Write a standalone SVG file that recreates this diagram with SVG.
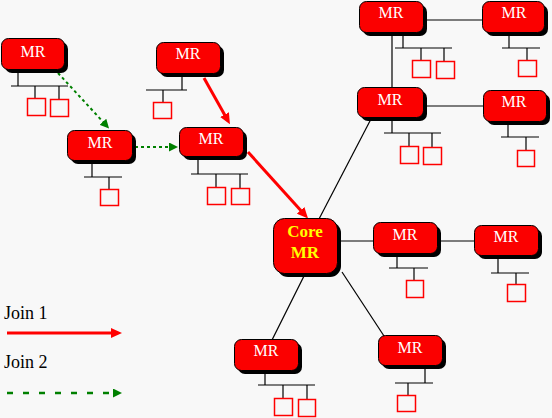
<svg xmlns="http://www.w3.org/2000/svg" width="552" height="418" viewBox="0 0 552 418">
<defs>
<style>
.sh{fill:#000}
.bx{fill:#fb0000;stroke:#000;stroke-width:1}
.lb{font-family:"Liberation Serif","Times New Roman",serif;font-size:16px;fill:#fff;text-anchor:middle}
.core{font-family:"Liberation Serif","Times New Roman",serif;font-size:17px;font-weight:bold;fill:#ffff00;text-anchor:middle}
.ln{stroke:#000;stroke-width:1.2;fill:none}
.h{fill:none;stroke:#f00;stroke-width:1.5}
.j1{stroke:#f00;stroke-width:3;fill:none}
.j2{stroke:#008000;stroke-width:2;fill:none;stroke-dasharray:3 3}
.j2l{stroke:#008000;stroke-width:2.5;fill:none;stroke-dasharray:6 10}
.leg{font-family:"Liberation Serif","Times New Roman",serif;font-size:18px;fill:#000}
</style>
<marker id="ar" markerUnits="userSpaceOnUse" markerWidth="11" markerHeight="10" refX="5" refY="5" orient="auto" viewBox="0 0 11 10"><path d="M0,0 L11,5 L0,10 z" fill="#f00"/></marker>
<marker id="ag" markerUnits="userSpaceOnUse" markerWidth="9" markerHeight="9" refX="3" refY="4.5" orient="auto" viewBox="0 0 9 9"><path d="M0,0 L9,4.5 L0,9 z" fill="#008000"/></marker>
</defs>
<rect width="552" height="418" fill="#f8f8f8"/>

<g id="connectors">
<line class="ln" x1="392" y1="32" x2="392" y2="88"/>
<line class="ln" x1="423" y1="20" x2="482" y2="20"/>
<line class="ln" x1="423" y1="106" x2="483" y2="106"/>
<line class="ln" x1="371" y1="119" x2="319" y2="219"/>
<line class="ln" x1="337" y1="241" x2="373" y2="241"/>
<line class="ln" x1="437" y1="241" x2="474" y2="241"/>
<line class="ln" x1="304" y1="276" x2="272" y2="340"/>
<line class="ln" x1="342" y1="272" x2="384" y2="336"/>
<line class="j1" x1="204" y1="78" x2="227" y2="119" marker-end="url(#ar)"/>
<line class="j1" x1="248" y1="152" x2="304" y2="214" marker-end="url(#ar)"/>
<line class="j2" x1="58" y1="73" x2="105" y2="124" marker-end="url(#ag)"/>
<line class="j2" x1="135" y1="147" x2="172" y2="147" marker-end="url(#ag)"/>
</g>

<g id="mr1">
<line class="ln" x1="18" y1="69" x2="18" y2="86"/><line class="ln" x1="11" y1="86" x2="68" y2="86"/>
<line class="ln" x1="35" y1="86" x2="35" y2="98"/><line class="ln" x1="59" y1="86" x2="59" y2="99"/>
<rect class="h" x="27.5" y="98.5" width="18" height="17"/><rect class="h" x="50.5" y="99.5" width="18" height="17"/>
<rect class="sh" x="5" y="42" width="63" height="31" rx="7"/><rect class="bx" x="1.5" y="38.5" width="63" height="31" rx="7"/>
<text class="lb" x="33" y="57">MR</text>
</g>

<g id="mr2">
<line class="ln" x1="92" y1="160" x2="92" y2="177"/><line class="ln" x1="84" y1="177" x2="122" y2="177"/>
<line class="ln" x1="109" y1="177" x2="109" y2="189"/>
<rect class="h" x="100.5" y="189.5" width="18" height="16"/>
<rect class="sh" x="71" y="134" width="65" height="30" rx="7"/><rect class="bx" x="67.5" y="130.5" width="65" height="30" rx="7"/>
<text class="lb" x="100" y="148">MR</text>
</g>

<g id="mr3">
<line class="ln" x1="198" y1="156" x2="198" y2="174"/><line class="ln" x1="191" y1="174" x2="248" y2="174"/>
<line class="ln" x1="216" y1="174" x2="216" y2="187"/><line class="ln" x1="240" y1="174" x2="240" y2="188"/>
<rect class="h" x="207.5" y="187.5" width="18" height="17"/><rect class="h" x="231.5" y="188.5" width="18" height="16"/>
<rect class="sh" x="183" y="131" width="64" height="29" rx="7"/><rect class="bx" x="179.5" y="127.5" width="64" height="29" rx="7"/>
<text class="lb" x="211" y="144">MR</text>
</g>

<g id="mr4">
<line class="ln" x1="182" y1="73" x2="182" y2="90"/><line class="ln" x1="146" y1="90" x2="187" y2="90"/>
<line class="ln" x1="163" y1="90" x2="163" y2="102"/>
<rect class="h" x="153.5" y="102.5" width="18" height="16"/>
<rect class="sh" x="160" y="46" width="64" height="31" rx="7"/><rect class="bx" x="156.5" y="42.5" width="64" height="31" rx="7"/>
<text class="lb" x="188" y="59">MR</text>
</g>

<g id="mr5">
<line class="ln" x1="403" y1="32" x2="403" y2="48"/><line class="ln" x1="395" y1="48" x2="452" y2="48"/>
<line class="ln" x1="421" y1="48" x2="421" y2="60"/><line class="ln" x1="444" y1="48" x2="444" y2="61"/>
<rect class="h" x="412.5" y="60.5" width="18" height="17"/><rect class="h" x="436.5" y="61.5" width="18" height="17"/>
<rect class="sh" x="363" y="5" width="64" height="31" rx="7"/><rect class="bx" x="359.5" y="1.5" width="64" height="31" rx="7"/>
<text class="lb" x="391" y="18">MR</text>
</g>

<g id="mr7">
<line class="ln" x1="509" y1="32" x2="509" y2="48"/><line class="ln" x1="502" y1="48" x2="540" y2="48"/>
<line class="ln" x1="527" y1="48" x2="527" y2="60"/>
<rect class="h" x="518.5" y="60.5" width="18" height="16"/>
<rect class="sh" x="486" y="5" width="62" height="31" rx="7"/><rect class="bx" x="482.5" y="1.5" width="62" height="31" rx="7"/>
<text class="lb" x="514" y="18">MR</text>
</g>

<g id="mr6">
<line class="ln" x1="392" y1="117" x2="392" y2="133"/><line class="ln" x1="384" y1="133" x2="441" y2="133"/>
<line class="ln" x1="409" y1="133" x2="409" y2="146"/><line class="ln" x1="432" y1="133" x2="432" y2="147"/>
<rect class="h" x="400.5" y="146.5" width="18" height="17"/><rect class="h" x="423.5" y="147.5" width="18" height="17"/>
<rect class="sh" x="361" y="91" width="66" height="30" rx="7"/><rect class="bx" x="357.5" y="87.5" width="66" height="30" rx="7"/>
<text class="lb" x="390" y="105">MR</text>
</g>

<g id="mr8">
<line class="ln" x1="508" y1="121" x2="508" y2="137"/><line class="ln" x1="501" y1="137" x2="539" y2="137"/>
<line class="ln" x1="526" y1="137" x2="526" y2="150"/>
<rect class="h" x="517.5" y="150.5" width="17" height="16"/>
<rect class="sh" x="487" y="94" width="63" height="31" rx="7"/><rect class="bx" x="483.5" y="90.5" width="63" height="31" rx="7"/>
<text class="lb" x="514" y="107">MR</text>
</g>

<g id="core">
<rect class="sh" x="277" y="222" width="64" height="55" rx="11"/><rect class="bx" x="273.5" y="218.5" width="64" height="55" rx="11"/>
<text class="core" x="305" y="237">Core</text>
<text class="core" x="305" y="258">MR</text>
</g>

<g id="mr9">
<line class="ln" x1="397" y1="253" x2="397" y2="268"/><line class="ln" x1="389" y1="268" x2="428" y2="268"/>
<line class="ln" x1="414" y1="268" x2="414" y2="280"/>
<rect class="h" x="406.5" y="280.5" width="17" height="17"/>
<rect class="sh" x="377" y="226" width="64" height="31" rx="7"/><rect class="bx" x="373.5" y="222.5" width="64" height="31" rx="7"/>
<text class="lb" x="405" y="240">MR</text>
</g>

<g id="mr10">
<line class="ln" x1="498" y1="256" x2="498" y2="273"/><line class="ln" x1="491" y1="273" x2="529" y2="273"/>
<line class="ln" x1="516" y1="273" x2="516" y2="284"/>
<rect class="h" x="507.5" y="284.5" width="18" height="17"/>
<rect class="sh" x="478" y="229" width="64" height="30" rx="7"/><rect class="bx" x="474.5" y="225.5" width="64" height="30" rx="7"/>
<text class="lb" x="506" y="242">MR</text>
</g>

<g id="mr11">
<line class="ln" x1="265" y1="370" x2="265" y2="385"/><line class="ln" x1="258" y1="385" x2="315" y2="385"/>
<line class="ln" x1="283" y1="385" x2="283" y2="398"/><line class="ln" x1="307" y1="385" x2="307" y2="399"/>
<rect class="h" x="274.5" y="398.5" width="18" height="17"/><rect class="h" x="298.5" y="399.5" width="17" height="17"/>
<rect class="sh" x="238" y="343" width="64" height="31" rx="7"/><rect class="bx" x="234.5" y="339.5" width="64" height="31" rx="7"/>
<text class="lb" x="266" y="356">MR</text>
</g>

<g id="mr12">
<line class="ln" x1="425" y1="365" x2="425" y2="383"/><line class="ln" x1="395" y1="383" x2="433" y2="383"/>
<line class="ln" x1="408" y1="383" x2="408" y2="395"/>
<rect class="h" x="397.5" y="395.5" width="18" height="16"/>
<rect class="sh" x="382" y="339" width="64" height="30" rx="7"/><rect class="bx" x="378.5" y="335.5" width="64" height="30" rx="7"/>
<text class="lb" x="410" y="353">MR</text>
</g>

<g id="legend">
<text class="leg" x="4" y="319">Join 1</text>
<line class="j1" x1="7" y1="333" x2="116" y2="333" marker-end="url(#ar)"/>
<text class="leg" x="4" y="368">Join 2</text>
<line class="j2l" x1="7" y1="393" x2="116" y2="393" marker-end="url(#ag)"/>
</g>
</svg>
